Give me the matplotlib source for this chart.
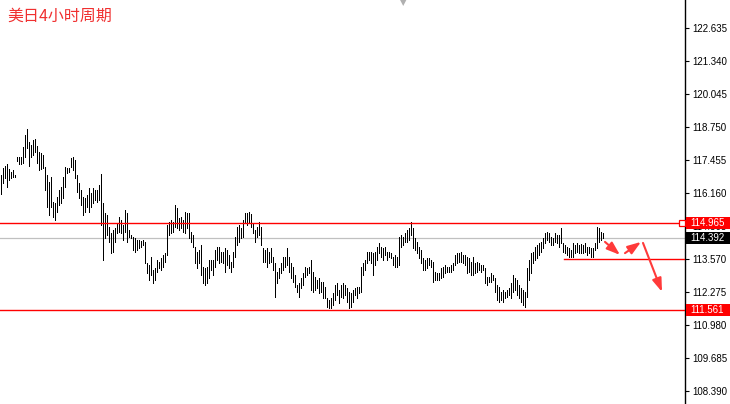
import matplotlib
matplotlib.use("Agg")
import matplotlib.pyplot as plt
import matplotlib.transforms as mtransforms
from matplotlib.patches import Rectangle
import numpy as np

# ---------------- data (USD/JPY, 4-hour bars) ----------------
highs = [
    116.87,117.14,117.22,117.30,117.10,116.98,117.06,116.87,117.57,117.57,
    117.57,117.97,118.44,118.67,118.16,118.04,118.24,118.28,118.00,117.77,
    117.73,117.65,117.18,116.87,116.59,116.79,115.81,115.77,116.00,116.28,
    116.39,116.79,117.18,117.14,117.14,117.53,117.57,117.46,116.87,116.55,
    116.28,116.00,115.96,116.08,116.36,116.16,116.36,116.28,116.28,116.47,
    116.91,115.77,115.37,115.30,114.83,114.59,114.71,114.79,114.98,115.22,
    115.10,114.90,115.49,115.37,114.71,114.51,114.43,114.39,114.32,114.32,
    114.28,114.32,114.24,113.41,113.33,113.65,113.14,113.22,113.53,113.45,
    113.61,113.73,113.80,114.90,115.02,115.10,115.02,115.69,115.57,115.18,
    115.22,115.10,115.41,115.37,115.37,114.63,114.51,114.04,113.84,113.92,
    114.12,113.26,113.22,113.26,113.53,113.53,113.53,113.92,114.04,114.04,
    113.84,113.84,114.00,113.92,113.73,113.45,113.84,114.43,114.83,114.90,
    114.79,115.10,115.37,115.37,115.41,115.34,114.98,114.71,114.83,115.02,
    114.83,114.00,113.92,114.00,113.84,114.00,113.65,113.41,113.06,113.22,
    113.41,113.65,113.65,114.00,113.65,113.41,113.26,112.94,112.55,112.63,
    112.82,113.02,113.26,113.22,113.26,113.53,113.06,112.86,112.75,112.82,
    112.67,112.67,112.47,112.04,111.96,112.04,112.24,112.55,112.63,112.35,
    112.55,112.63,112.55,112.43,112.28,112.24,112.35,112.43,112.47,112.47,
    113.26,113.41,113.53,113.84,113.84,113.84,113.80,113.84,114.04,114.20,
    114.04,114.00,114.04,113.84,113.84,113.80,113.65,113.73,
    113.65,114.43,114.51,114.43,114.59,114.71,114.79,115.02,114.79,114.39,
    114.24,114.04,113.92,113.61,113.53,113.61,113.61,113.53,113.45,113.06,
    113.02,113.02,113.22,113.26,113.33,113.26,113.26,113.33,113.41,113.73,
    113.80,113.80,113.84,113.73,113.73,113.65,113.61,113.45,113.65,113.41,
    113.45,113.41,113.33,113.33,113.22,112.86,112.86,113.02,112.94,112.82,
    112.55,112.47,
    112.28,112.35,112.28,112.35,112.43,112.63,112.94,112.82,112.75,112.55,
    112.43,112.35,112.28,113.22,113.53,113.80,113.84,114.04,114.12,114.20,
    114.24,114.39,114.59,114.63,114.59,114.43,114.39,114.59,114.51,114.51,
    114.79,114.20,114.12,114.04,114.00,113.92,114.20,114.12,114.20,114.12,
    114.16,114.12,114.20,114.04,114.04,114.00,114.00,114.20,114.83,114.79,
    114.63,114.59,
]
lows = [
    116.12,116.55,116.75,116.39,116.67,116.75,116.79,116.79,117.42,117.30,
    117.30,117.34,117.57,117.93,117.22,117.57,117.65,117.77,117.34,117.06,
    117.10,117.14,116.28,115.61,115.30,115.61,115.22,115.10,115.41,115.69,
    115.77,115.96,116.39,116.94,116.98,117.18,117.06,116.75,116.20,115.96,
    115.69,115.30,115.41,115.61,115.41,115.61,115.77,115.88,115.81,115.88,
    114.90,113.53,114.39,114.51,114.24,113.80,113.84,114.24,114.59,114.63,
    114.59,114.32,114.63,114.24,114.43,114.39,113.92,113.84,113.92,114.00,
    114.04,114.12,113.41,113.02,112.75,112.94,112.63,112.75,113.06,113.22,
    113.14,113.26,113.45,113.73,114.51,114.59,114.63,114.83,114.79,114.71,
    114.79,114.63,114.59,114.79,114.39,114.24,114.04,113.41,113.22,113.41,
    112.94,112.63,112.55,112.63,112.82,113.14,112.94,113.26,113.53,113.41,
    113.45,113.41,113.06,113.33,113.22,113.06,113.26,113.65,114.12,114.24,
    114.39,114.43,114.98,114.90,115.02,114.83,114.59,114.24,114.43,114.51,
    114.12,113.45,113.45,113.26,113.41,113.45,113.14,112.08,112.63,112.82,
    113.02,113.14,113.26,113.33,113.06,112.82,112.67,112.47,112.28,112.08,
    112.43,112.55,112.86,112.94,113.02,112.35,112.28,112.35,112.43,112.24,
    112.28,112.04,112.04,111.69,111.65,111.65,111.77,111.96,112.16,111.84,
    112.08,112.04,112.16,111.88,111.65,111.69,111.88,112.16,112.04,112.24,
    112.28,112.94,113.14,113.41,113.53,113.41,112.94,113.33,113.53,113.80,
    113.65,113.53,113.73,113.53,113.65,113.61,113.33,113.26,
    113.26,113.33,114.04,114.12,114.24,114.24,114.32,114.51,114.00,113.92,
    113.80,113.61,113.41,113.14,113.14,113.22,113.33,113.26,112.67,112.75,
    112.75,112.75,112.82,112.86,113.02,113.06,113.06,113.06,113.14,113.33,
    113.41,113.45,113.45,113.41,113.33,113.02,113.06,112.94,112.94,113.02,
    113.06,113.14,113.06,113.14,112.63,112.55,112.67,112.67,112.75,112.28,
    111.96,111.88,
    111.96,111.88,112.04,112.08,112.16,112.04,112.28,112.35,112.16,112.04,
    111.88,111.77,111.69,112.08,112.75,113.02,113.41,113.53,113.61,113.73,
    113.84,114.00,114.20,114.32,114.24,114.12,114.12,114.24,114.20,114.04,
    114.20,113.84,113.80,113.73,113.65,113.65,113.65,113.80,113.84,113.80,
    113.80,113.80,113.84,113.73,113.80,113.65,113.65,113.92,114.00,114.24,
    114.32,114.39,
]

tick_values = [122.635, 121.340, 120.045, 118.750, 117.455, 116.160,
               114.865, 113.570, 112.275, 110.980, 109.685, 108.390]
tick_labels = ["122.635", "121.340", "120.045", "118.750", "117.455", "116.160",
               "114.865", "113.570", "112.275", "110.980", "109.685", "108.390"]

resistance = 114.965
support_low = 111.561
support_mid = 113.570
support_mid_start = 281.5      # bar index where the short support line starts
bid = 114.392
title = "美日4小时周期"

# arrows: (start bar, start price, end bar, end price)
arrows = [
    (302.0, 114.24, 309.5, 113.73),
    (312.0, 113.80, 320.0, 114.24),
    (321.0, 114.20, 330.5, 112.28),
]

# ---------------- figure ----------------
W, H = 730, 404
fig = plt.figure(figsize=(W / 100, H / 100), dpi=100)
fig.patch.set_facecolor("white")
ax_w = 685 / W
ax = fig.add_axes([0, 0, ax_w, 1])
ax.set_facecolor("white")

x = np.arange(len(highs))
ax.vlines(x, lows, highs, colors="black", linewidth=0.55, antialiased=False, zorder=3)

ax.set_xlim(-0.5, 342)
ax.set_ylim(107.879, 123.734)

red = "#ff0000"
# horizontal lines
ax.axhline(bid, color="#c0c0c0", lw=0.9, zorder=2)
ax.plot([-0.5, 339.5], [resistance, resistance], color=red, lw=1.0, zorder=4)
ax.plot([340.5], [resistance], marker="s", ms=4, mfc="white", mec=red, mew=0.9,
        zorder=5, clip_on=False)
ax.axhline(support_low, color=red, lw=1.0, zorder=4)
ax.plot([support_mid_start, 342], [support_mid, support_mid], color=red, lw=1.0, zorder=4)

for (x0, y0, x1, y1) in arrows:
    ax.annotate("", xy=(x1, y1), xytext=(x0, y0),
                arrowprops=dict(arrowstyle="-|>,head_length=0.8,head_width=0.28",
                                color="#ff3a3a", lw=1.5, mutation_scale=10,
                                shrinkA=0, shrinkB=0), zorder=6)

# axis styling
for s in ["top", "left", "bottom"]:
    ax.spines[s].set_visible(False)
ax.spines["right"].set_color("black")
ax.spines["right"].set_linewidth(1.0)
ax.set_xticks([])
ax.yaxis.tick_right()
ax.set_yticks(tick_values)
ax.set_yticklabels(tick_labels)
ax.tick_params(axis="y", direction="out", length=3, width=0.8, pad=2,
               labelsize=7, colors="black")
for lab in ax.get_yticklabels():
    lab.set_fontfamily("Liberation Sans")

# price tags on the axis
blend = mtransforms.blended_transform_factory(ax.transAxes, ax.transData)
tag_h = 12 * (123.734 - 107.879) / H
tag_w = 44 / 685
for price, fc in [(resistance, red), (bid, "black"), (support_low, red)]:
    ax.add_patch(Rectangle((1.0 + 1 / 685, price - tag_h / 2), tag_w, tag_h,
                           transform=blend, facecolor=fc, edgecolor="none",
                           clip_on=False, zorder=10))
    ax.text(1.0 + 5 / 685, price, f"{price:.3f}", transform=blend, ha="left",
            va="center", color="white", fontsize=7, family="Liberation Sans",
            zorder=11, clip_on=False)

# chart-shift marker at top
fig.text(403 / W, 1 - 3 / H, "\u25BC", color="#b0b0b0", fontsize=6,
         ha="center", va="center", family="DejaVu Sans")

# title
fig.text(7 / W, 1 - 16 / H, title, color="#f03030", fontsize=11.5,
         ha="left", va="center", family=["Noto Sans CJK SC", "DejaVu Sans"])

fig.savefig("out.png", dpi=100, facecolor="white")
